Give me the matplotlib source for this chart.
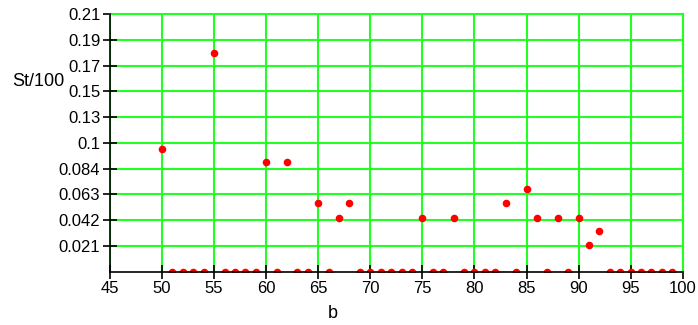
import matplotlib
matplotlib.use("Agg")
import matplotlib.pyplot as plt

plt.rcParams['font.family'] = ['Liberation Sans Narrow', 'Liberation Sans', 'DejaVu Sans']

b = list(range(50, 100))
st = [0.1, 0, 0, 0, 0, 0.178, 0, 0, 0, 0,
      0.089, 0, 0.089, 0, 0, 0.056, 0, 0.044, 0.056, 0,
      0, 0, 0, 0, 0, 0.044, 0, 0, 0.044, 0,
      0, 0, 0, 0.056, 0, 0.067, 0.044, 0, 0.044, 0,
      0.044, 0.022, 0.033, 0, 0, 0, 0, 0, 0, 0]

xticks = list(range(45, 101, 5))
yticks = [0.021, 0.042, 0.063, 0.084, 0.105, 0.126, 0.147, 0.168, 0.189, 0.21]
ytick_labels = ["0.021", "0.042", "0.063", "0.084", "0.1", "0.13", "0.15", "0.17", "0.19", "0.21"]

green = "#22ff22"

fig = plt.figure(figsize=(6.98, 3.25), dpi=100)
ax = fig.add_axes([110/698, 1 - 271.7/325, (682.7 - 110)/698, (271.7 - 14)/325])

ax.scatter(b, st, s=30, color="red", zorder=3, linewidths=0)

ax.set_xlim(45, 100)
ax.set_ylim(0, 0.21)
ax.set_xticks(xticks)
ax.set_yticks(yticks)
ax.set_yticklabels(ytick_labels)
ax.grid(True, color=green, linewidth=1.5)
ax.set_axisbelow(True)

for s in ["top", "right"]:
    ax.spines[s].set_color(green)
    ax.spines[s].set_linewidth(1.5)
for s in ["left", "bottom"]:
    ax.spines[s].set_color("black")
    ax.spines[s].set_linewidth(1.2)
    ax.spines[s].set_zorder(4)

ax.tick_params(direction="inout", length=10, width=1.2, labelsize=12, pad=2, color="black")

fig.text(12/698, 1 - 82/325, "St/100", fontsize=13, va="center", ha="left")
fig.text(333/698, 1 - 314/325, "b", fontsize=13, va="center", ha="center")

fig.savefig("out.png", dpi=100)
